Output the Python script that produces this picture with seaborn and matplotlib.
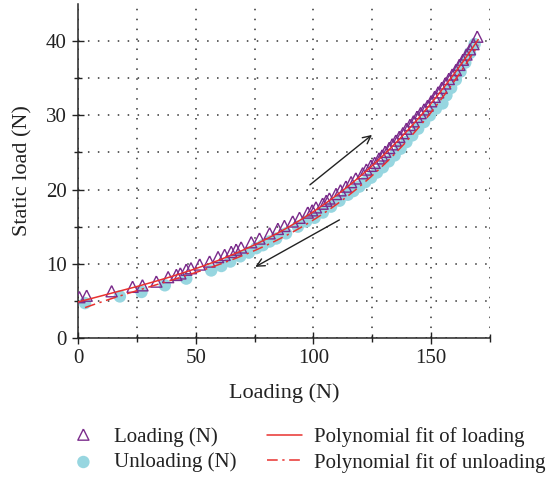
import numpy as np
import pandas as pd
import seaborn as sns
import matplotlib
matplotlib.use("Agg")
import matplotlib.pyplot as plt

# ---- data ----
load_x = [0.6, 3.7, 14.3, 23.2, 27.4, 33.3, 38.3, 41.8, 43.5, 46.0, 48.0, 51.7, 55.9, 59.5,
          62.3, 65.1, 67.2, 69.3, 73.6, 77.1, 81.4, 84.9, 87.7, 91.2, 94.1, 97.6, 99.5,
          101.1, 103.9, 105.5, 106.8, 109.6, 111.5, 113.8, 116.0, 118.0, 120.9, 122.5,
          124.4, 126.0, 127.9, 129.2, 130.5, 132.2, 133.5, 135.0, 136.5, 138.0, 139.5,
          141.0, 142.5, 144.0, 145.5, 147.0, 148.5, 150.0, 151.5, 153.0, 154.5, 156.0,
          157.5, 159.0, 160.5, 162.0, 163.5, 165.0, 166.5, 168.0, 169.6]
load_y = [5.2, 5.4, 6.0, 6.6, 6.8, 7.3, 7.9, 8.2, 8.4, 8.9, 9.1, 9.6, 10.0, 10.6,
          10.9, 11.3, 11.6, 11.9, 12.6, 13.1, 13.8, 14.4, 14.8, 15.4, 15.9, 16.6, 16.9,
          17.3, 17.8, 18.2, 18.5, 19.1, 19.6, 20.1, 20.7, 21.2, 21.9, 22.4,
          22.9, 23.3, 23.9, 24.3, 24.8, 25.3, 25.8, 26.3, 26.8, 27.3, 27.9,
          28.4, 28.9, 29.5, 30.0, 30.5, 31.0, 31.6, 32.2, 32.8, 33.4, 34.0,
          34.6, 35.2, 35.8, 36.5, 37.2, 37.9, 38.6, 39.3, 40.3]

unload_x = [3.0, 17.8, 27.0, 36.9, 46.0, 56.6, 60.9, 64.7, 68.9, 72.6, 75.7, 78.5, 81.4,
            84.2, 88.4, 93.4, 96.9, 100.5, 104.0, 107.5, 111.1, 114.6, 117.0, 119.5,
            122.0, 124.5, 127.0, 129.5, 132.0, 134.5, 137.0, 139.5, 142.0, 144.5, 147.0,
            149.5, 152.0, 154.8, 156.5, 158.5, 160.5, 162.5, 164.5, 166.5, 168.5]
unload_y = [4.7, 5.6, 6.2, 7.1, 8.0, 9.1, 9.7, 10.3, 11.0, 11.5, 12.1, 12.5, 13.0,
            13.4, 14.1, 15.0, 15.7, 16.2, 16.9, 17.7, 18.5, 19.3, 19.8, 20.4,
            21.0, 21.6, 22.3, 23.0, 23.8, 24.6, 25.5, 26.4, 27.3, 28.2, 29.1,
            30.0, 30.9, 31.6, 32.7, 33.7, 34.8, 35.9, 37.1, 38.4, 39.6]

x_ticks = [0, 50, 100, 150]
y_ticks = [0, 10, 20, 30, 40]

labels = ["Loading (N)", "Unloading (N)", "Polynomial fit of loading", "Polynomial fit of unloading"]

# ---- style ----
sns.set_style("ticks")
plt.rcParams["font.family"] = ["Liberation Serif", "DejaVu Serif"]
plt.rcParams["axes.linewidth"] = 1.1

purple = "#7B2C8C"
cyan = "#97D6E0"
red = "#E8312F"
ink = "#222222"

# open triangle whose body sits just above its data point
tri = [(0, 1.4), (-1, -0.6), (1, -0.6), (0, 1.4)]

fig = plt.figure(figsize=(5.49, 4.79), dpi=100)
ax = fig.add_axes([0.142, 0.2944, 0.7505, 0.6972])

df_load = pd.DataFrame({"x": load_x, "y": load_y})
df_unload = pd.DataFrame({"x": unload_x, "y": unload_y})

# polynomial fits computed from the data
pl = np.polyfit(load_x, load_y, 3)
pu = np.polyfit(unload_x, unload_y, 3)
fx_l = np.linspace(0, 170, 200)
fx_u = np.linspace(3, 170, 200)
df_fit_l = pd.DataFrame({"x": fx_l, "y": np.polyval(pl, fx_l)})
df_fit_u = pd.DataFrame({"x": fx_u, "y": np.polyval(pu, fx_u)})

sns.scatterplot(data=df_unload, x="x", y="y", ax=ax, marker="o", s=80, color=cyan,
                edgecolor="none", linewidth=0, label=labels[1], zorder=2)
sns.scatterplot(data=df_load, x="x", y="y", ax=ax, marker=tri, s=125, facecolor="none",
                edgecolor=purple, linewidth=1.0, label=labels[0], zorder=3)
sns.lineplot(data=df_fit_l, x="x", y="y", ax=ax, color=red, lw=1.1, label=labels[2], zorder=4)
sns.lineplot(data=df_fit_u, x="x", y="y", ax=ax, color=red, lw=1.1,
             dashes=False, label=labels[3], zorder=4)
ax.lines[-1].set_linestyle((0, (7, 3, 1.5, 3)))

ax.set_xlim(0, 175)
ax.set_ylim(0, 45)
ax.set_xticks(x_ticks)
ax.set_yticks(y_ticks)
ax.set_xticks([25, 75, 125, 175], minor=True)
ax.set_yticks([5, 15, 25, 35], minor=True)
ax.tick_params(which="major", direction="inout", length=9, width=1.0, labelsize=15, colors=ink)
ax.tick_params(which="minor", direction="inout", length=6, width=1.0, colors=ink)
ax.grid(True, which="both", color="#333333", linestyle=(0, (1, 5.5)), linewidth=1.1)
for s in ["top", "right"]:
    ax.spines[s].set_visible(False)
ax.set_xlabel("Loading (N)", fontsize=16, color=ink, labelpad=11)
ax.set_ylabel("Static load (N)", fontsize=16, color=ink, labelpad=10)

# arrows
ax.annotate("", xy=(125.8, 27.6), xytext=(97.6, 20.4),
            arrowprops=dict(arrowstyle="->", color=ink, lw=1.0, mutation_scale=14))
ax.annotate("", xy=(74.3, 9.4), xytext=(112.1, 16.1),
            arrowprops=dict(arrowstyle="->", color=ink, lw=1.0, mutation_scale=14))

handles, labs = ax.get_legend_handles_labels()
order = [labs.index(l) for l in labels]
ax.get_legend().remove()
fig.legend([handles[i] for i in order], [labs[i] for i in order], ncol=2,
           loc="center left", bbox_to_anchor=(0.12, 0.0605), frameon=False,
           fontsize=15, handlelength=1.68, handletextpad=0.62, columnspacing=1.45,
           labelspacing=0.26, borderpad=0, borderaxespad=0, labelcolor=ink)

fig.savefig("out.png", dpi=100)
